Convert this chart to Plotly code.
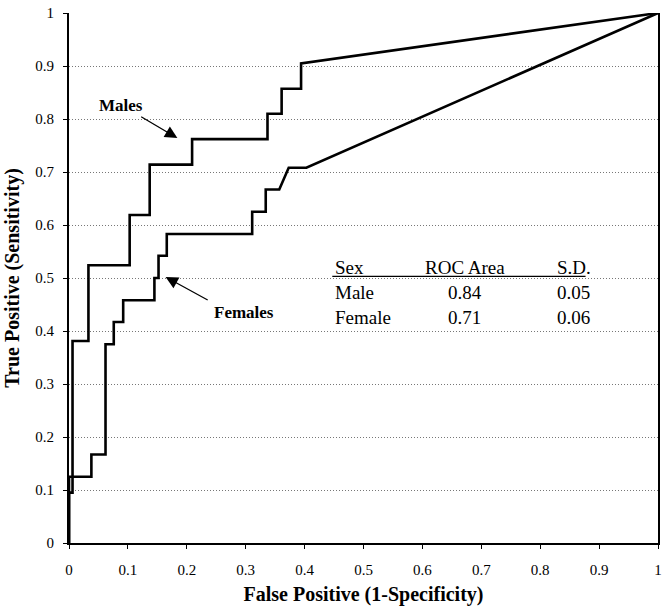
import plotly.graph_objects as go

# ROC curve points (False positive rate, True positive rate)
male_fpr = [0, 0, 0.006, 0.006, 0.033, 0.033, 0.103, 0.103, 0.137, 0.137, 0.209, 0.209,
            0.337, 0.337, 0.361, 0.361, 0.394, 0.394, 1.0]
male_tpr = [0, 0.095, 0.095, 0.381, 0.381, 0.524, 0.524, 0.619, 0.619, 0.714, 0.714, 0.762,
            0.762, 0.810, 0.810, 0.857, 0.857, 0.905, 1.0]

female_fpr = [0, 0, 0.038, 0.038, 0.062, 0.062, 0.076, 0.076, 0.092, 0.092, 0.145, 0.145,
              0.152, 0.152, 0.166, 0.166, 0.311, 0.311, 0.334, 0.334, 0.357, 0.373, 0.403, 1.0]
female_tpr = [0, 0.125, 0.125, 0.167, 0.167, 0.375, 0.375, 0.417, 0.417, 0.458, 0.458, 0.5,
              0.5, 0.542, 0.542, 0.583, 0.583, 0.625, 0.625, 0.667, 0.667, 0.708, 0.708, 1.0]

tick_vals = [0, 0.1, 0.2, 0.3, 0.4, 0.5, 0.6, 0.7, 0.8, 0.9, 1]
tick_text = ["0", "0.1", "0.2", "0.3", "0.4", "0.5", "0.6", "0.7", "0.8", "0.9", "1"]

table_header = ["Sex", "ROC Area", "S.D."]
table_sex = ["Male", "Female"]
table_area = ["0.84", "0.71"]
table_sd = ["0.05", "0.06"]

FONT = "Liberation Serif"

fig = go.Figure()
fig.add_trace(go.Scatter(x=male_fpr, y=male_tpr, mode="lines",
                         line=dict(color="black", width=2.6), name="Males",
                         hoverinfo="skip"))
fig.add_trace(go.Scatter(x=female_fpr, y=female_tpr, mode="lines",
                         line=dict(color="black", width=2.6), name="Females",
                         hoverinfo="skip"))

ann = []
# labels with arrows
ann.append(dict(x=0.089, y=0.825, xref="x", yref="y", text="<b>Males</b>", showarrow=False,
                font=dict(family=FONT, size=17, color="black")))
ann.append(dict(x=0.184, y=0.764, ax=0.12, ay=0.806, xref="x", yref="y", axref="x", ayref="y",
                text="", showarrow=True, arrowhead=2, arrowsize=1.9, arrowwidth=1.3,
                arrowcolor="black"))
ann.append(dict(x=0.297, y=0.434, xref="x", yref="y", text="<b>Females</b>", showarrow=False,
                font=dict(family=FONT, size=17, color="black")))
ann.append(dict(x=0.164, y=0.502, ax=0.238, ay=0.457, xref="x", yref="y", axref="x", ayref="y",
                text="", showarrow=True, arrowhead=2, arrowsize=1.9, arrowwidth=1.3,
                arrowcolor="black"))

# table
col_x = [0.449, 0.672, 0.857]
col_anchor = ["left", "center", "center"]
row_y = [0.519, 0.472, 0.425]
tf = dict(family=FONT, size=19, color="black")
for i, h in enumerate(table_header):
    ann.append(dict(x=col_x[i], y=row_y[0], xref="x", yref="y", text=h, showarrow=False,
                    xanchor=col_anchor[i], font=tf))
for r in range(len(table_sex)):
    vals = [table_sex[r], table_area[r], table_sd[r]]
    for i, v in enumerate(vals):
        ann.append(dict(x=col_x[i], y=row_y[r + 1], xref="x", yref="y", text=v,
                        showarrow=False, xanchor=col_anchor[i], font=tf))

fig.add_shape(type="line", xref="x", yref="y", x0=0.447, x1=0.877, y0=0.503, y1=0.503,
              line=dict(color="black", width=1.3))

fig.update_layout(
    width=663, height=606,
    margin=dict(l=69, r=1, t=13, b=63),
    paper_bgcolor="white", plot_bgcolor="white",
    showlegend=False,
    annotations=ann,
    font=dict(family=FONT, color="black"),
    xaxis=dict(range=[0, 1], tickvals=tick_vals, ticktext=tick_text, showgrid=False,
               zeroline=False, showline=True, linecolor="black", linewidth=2,
               ticks="outside", ticklen=4, tickwidth=1, tickcolor="black",
               tickfont=dict(family=FONT, size=15, color="black"),
               ticklabelstandoff=8, ticklabeloverflow="allow",
               title=dict(text="<b>False Positive (1-Specificity)</b>",
                          font=dict(family=FONT, size=20, color="black"), standoff=12)),
    yaxis=dict(range=[0, 1], tickvals=tick_vals, ticktext=tick_text, showgrid=True,
               gridcolor="#777777", griddash="1px,2px", gridwidth=1,
               zeroline=False, showline=True, linecolor="black", linewidth=2, mirror=True,
               ticks="outside", ticklen=4, tickwidth=1, tickcolor="black",
               tickfont=dict(family=FONT, size=15, color="black"),
               ticklabelstandoff=6,
               title=dict(text="<b>True Positive (Sensitivity)</b>",
                          font=dict(family=FONT, size=20, color="black"), standoff=10)),
)

fig.write_html("out.html", config={"displayModeBar": False},
               post_script="document.body.style.margin='0';document.body.style.overflow='hidden';")
